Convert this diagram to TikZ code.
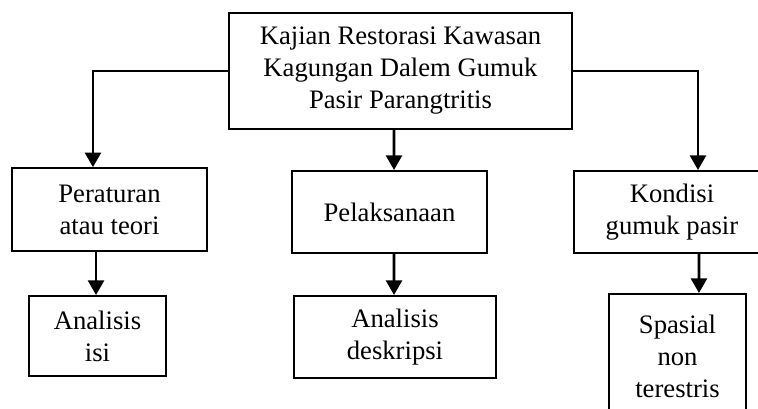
\documentclass[tikz,border=0pt]{standalone}
\usepackage{fontspec}
\setmainfont{Liberation Serif}
\usetikzlibrary{arrows.meta, positioning}

\begin{document}
\begin{tikzpicture}[
    x=0.75pt, y=-0.75pt,
    box/.style={rectangle, draw, line width=1.5pt, align=center, inner sep=0pt,
        font=\fontsize{20}{24}\selectfont},
    arrow/.style={-{Triangle[width=12pt, length=11pt]}, line width=2pt}
]
    \useasboundingbox (0, 0) rectangle (758, 408);

    % Top
    \node[box, minimum width=257pt, minimum height=87pt] (kajian) at (400.5, 71)
        {Kajian Restorasi Kawasan\\Kagungan Dalem Gumuk\\Pasir Parangtritis};

    % Level 1
    \node[box, minimum width=146pt, minimum height=62pt] (aturan) at (109.5, 209.5) {Peraturan\\atau teori};
    \node[box, minimum width=146pt, minimum height=61.5pt] (laksana) at (389.5, 212) {Pelaksanaan};
    \node[box, minimum width=147pt, minimum height=61.5pt] (kondisi) at (672, 212) {Kondisi\\gumuk pasir};

    % Level 2
    \node[box, minimum width=103pt, minimum height=60pt] (isi) at (97.5, 336) {Analisis\\isi};
    \node[box, minimum width=151.5pt, minimum height=61.5pt] (deskripsi) at (395, 337) {Analisis\\deskripsi};
    \node[box, minimum width=103pt, minimum height=93pt] (spasial) at (677.5, 356) {Spasial\\non\\terestris};

    % Arrows
    \draw[arrow] (kajian.west) -| ([xshift=-12.4pt]aturan.north);
    \draw[arrow] ([xshift=-4.9pt]kajian.south) -- ([xshift=3.4pt]laksana.north);
    \draw[arrow] (kajian.east) -| ([xshift=19.5pt]kondisi.north);
    \draw[arrow] ([xshift=-10.1pt]aturan.south) -- ([xshift=-1.1pt]isi.north);
    \draw[arrow] ([xshift=3.4pt]laksana.south) -- ([xshift=-0.75pt]deskripsi.north);
    \draw[arrow] ([xshift=20.25pt]kondisi.south) -- ([xshift=16.1pt]spasial.north);
\end{tikzpicture}
\end{document}
